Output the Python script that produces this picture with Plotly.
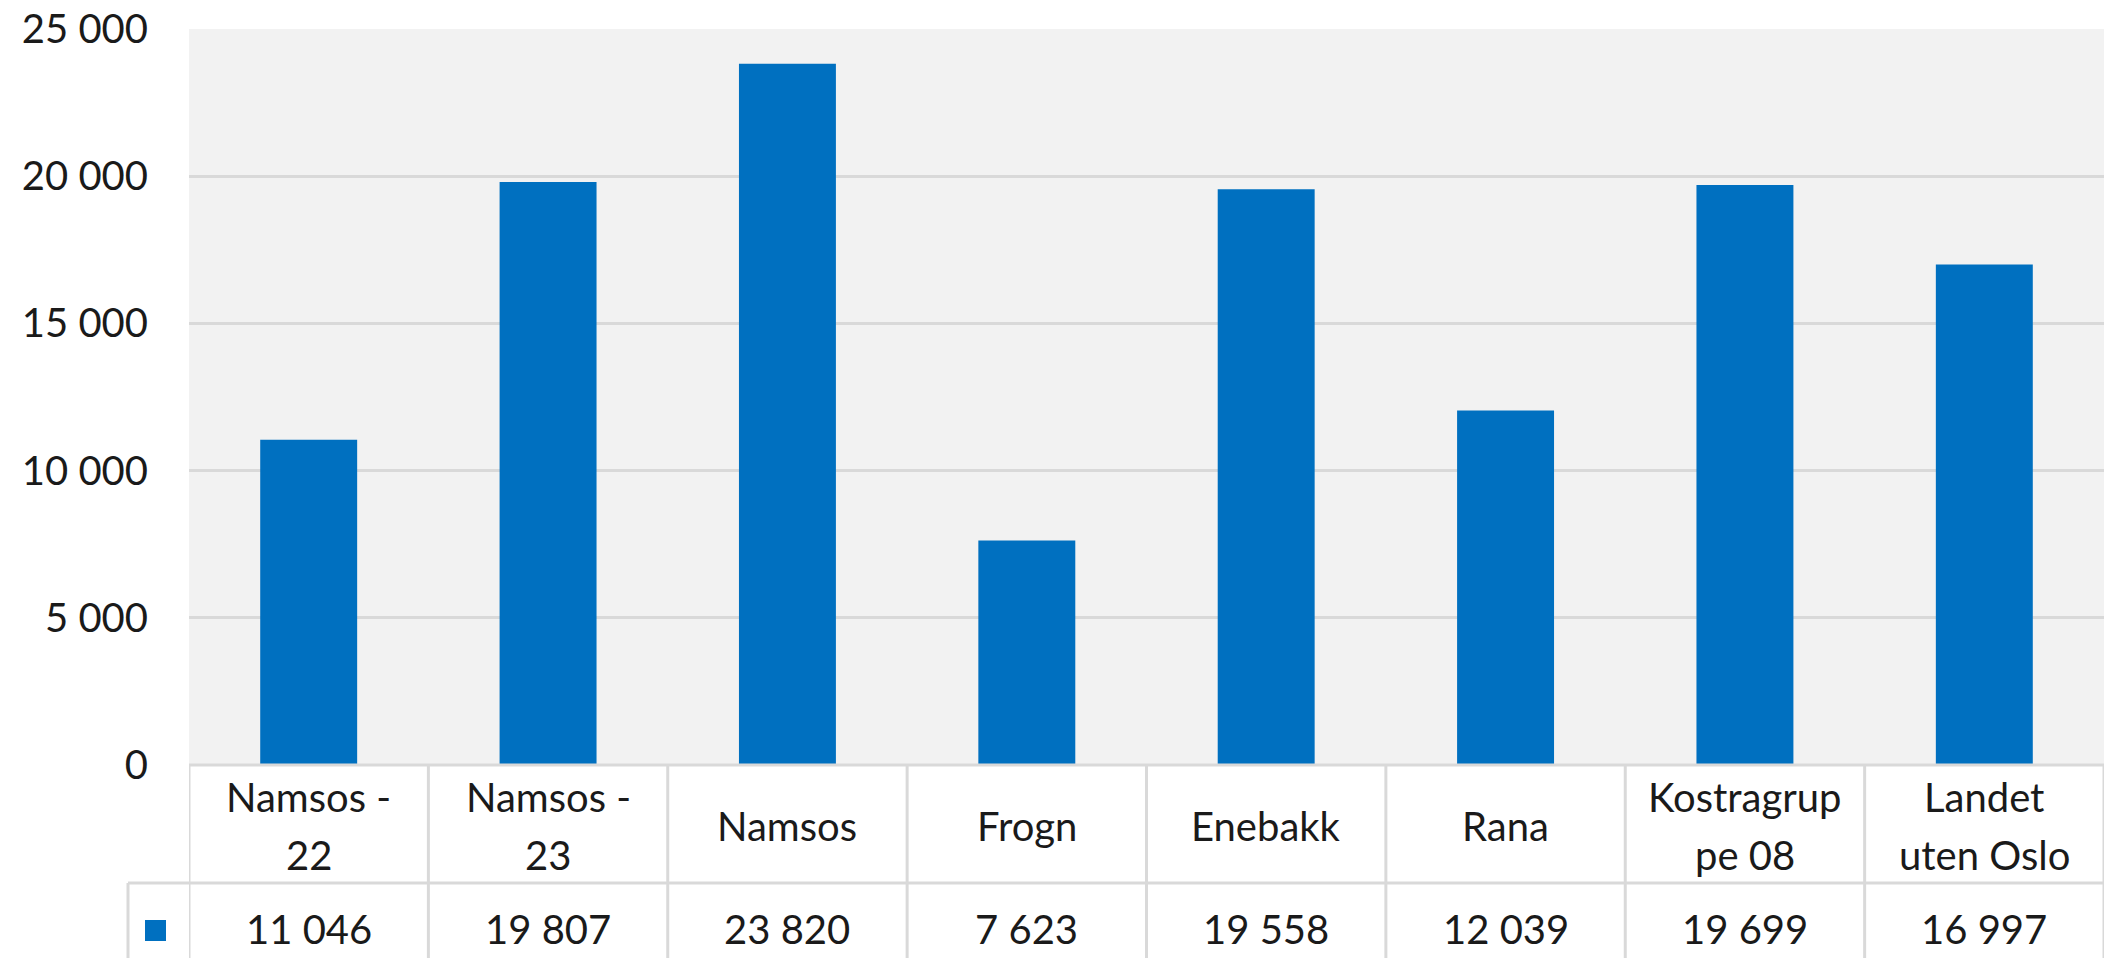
import plotly.graph_objects as go

categories = ["Namsos -<br>22", "Namsos -<br>23", "Namsos", "Frogn", "Enebakk", "Rana",
              "Kostragrup<br>pe 08", "Landet<br>uten Oslo"]
values = [11046, 19807, 23820, 7623, 19558, 12039, 19699, 16997]
tick_vals = [0, 5000, 10000, 15000, 20000, 25000]
tick_text = ["0", "5 000", "10 000", "15 000", "20 000", "25 000"]

BLUE = "#0070c0"
GRID = "#d9d9d9"
TXT = "#1a1a1a"
FONT = "Lato"
FS = 40

OFF = 8  # page body margin
W, H = 2105, 950
# target page-pixel geometry of plot area
PL, PR, PT, PB = 189, 2104, 29, 765
L = PL - OFF
R = W - (PR - OFF)
T = PT - OFF
B = H - (PB - OFF)
ph = PB - PT
pw = PR - PL

def py(Y):
    return (PB - Y) / ph

def pxp(X):
    return (X - PL) / pw

x = list(range(len(categories)))
fig = go.Figure(go.Bar(x=x, y=values, marker=dict(color=BLUE, line=dict(width=0)),
                       width=0.405, hoverinfo="skip"))

shapes = []
row_sep = py(883)
bottom = py(H + OFF + 20)
for i in range(len(categories) + 1):
    shapes.append(dict(type="line", xref="x", yref="paper", x0=i - 0.5, x1=i - 0.5,
                       y0=0, y1=bottom, line=dict(color=GRID, width=3), layer="above"))
shapes.append(dict(type="line", xref="x", yref="paper", x0=-0.5, x1=len(categories) - 0.5,
                   y0=0, y1=0, line=dict(color=GRID, width=3), layer="above"))
shapes.append(dict(type="line", xref="paper", yref="paper", x0=pxp(128), x1=1,
                   y0=row_sep, y1=row_sep, line=dict(color=GRID, width=3)))
shapes.append(dict(type="line", xref="paper", yref="paper", x0=pxp(128), x1=pxp(128),
                   y0=row_sep, y1=bottom, line=dict(color=GRID, width=3)))
shapes.append(dict(type="rect", xref="paper", yref="paper", x0=pxp(145), x1=pxp(166),
                   y0=py(941), y1=py(920), fillcolor=BLUE, line=dict(width=0)))

annotations = []
LINE_GAP = 58
for i, c in enumerate(categories):
    parts = c.split("<br>")
    n = len(parts)
    for k, part in enumerate(parts):
        yc = 826 + (k - (n - 1) / 2) * LINE_GAP
        annotations.append(dict(x=i, xref="x", y=py(yc), yref="paper", text=part,
                                showarrow=False, xanchor="center", yanchor="middle",
                                font=dict(family=FONT, size=FS, color=TXT)))
for i, v in enumerate(values):
    annotations.append(dict(x=i, xref="x", y=py(929), yref="paper",
                            text=f"{v:,}".replace(",", " "), showarrow=False,
                            xanchor="center", yanchor="middle",
                            font=dict(family=FONT, size=FS, color=TXT)))

fig.update_layout(
    width=W, height=H,
    margin=dict(l=L, r=R, t=T, b=B, pad=0, autoexpand=False),
    paper_bgcolor="white", plot_bgcolor="#f2f2f2",
    showlegend=False,
    shapes=shapes, annotations=annotations,
    font=dict(family=FONT, size=FS, color=TXT),
)
fig.update_xaxes(range=[-0.5, len(categories) - 0.5], showticklabels=False, showgrid=False,
                 zeroline=False, showline=False, ticks="", automargin=False)
fig.update_yaxes(range=[0, 25000], tickvals=tick_vals, ticktext=tick_text, showgrid=True,
                 gridcolor=GRID, gridwidth=3, zeroline=False, showline=False, ticks="",
                 ticklabelstandoff=40, ticklabeloverflow="allow", automargin=False,
                 tickfont=dict(family=FONT, size=FS, color=TXT))

fig.write_html("out.html")
